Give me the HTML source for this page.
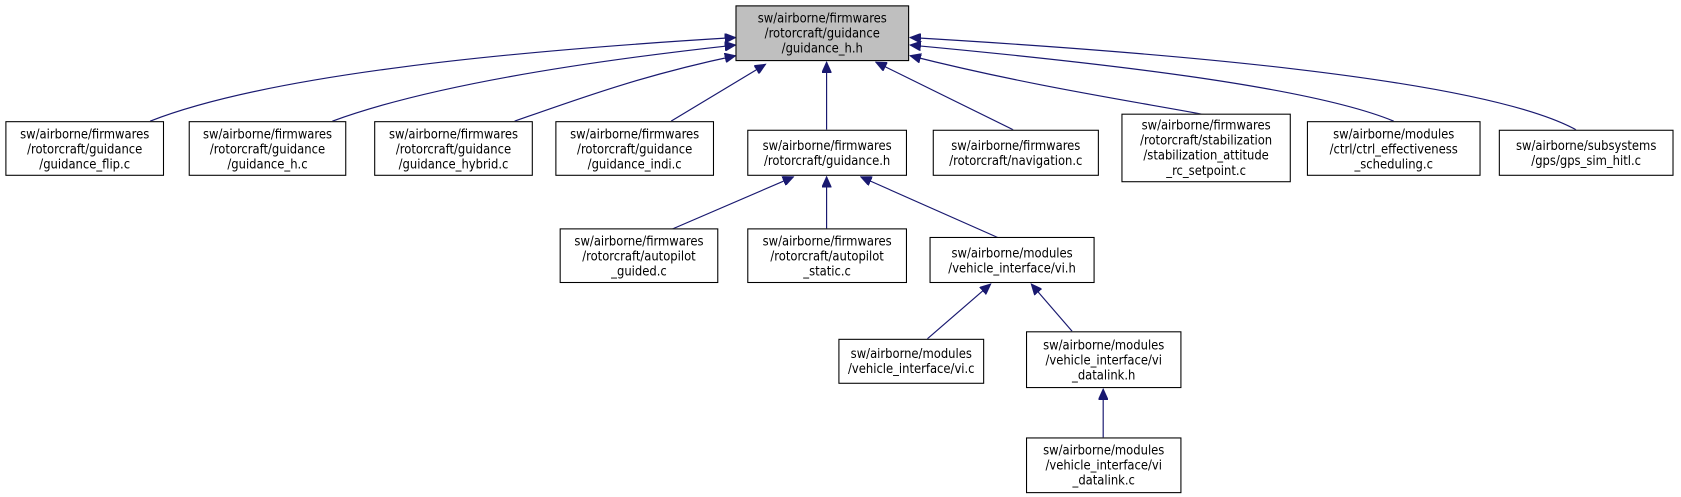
<!DOCTYPE html>
<html><head><meta charset="utf-8"><style>
body{margin:0;background:#fff;width:1681px;height:497px;overflow:hidden;position:relative;font-family:"DejaVu Sans Condensed","Liberation Sans Narrow","Liberation Sans",sans-serif;font-size:12px}
#w{position:absolute;left:0;top:0;width:1568px;height:464px;transform:scale(1.0721);transform-origin:0 0}
.n{position:absolute;border:1px solid #000;background:#fff;box-sizing:border-box;display:flex;align-items:center;justify-content:center;text-align:center;line-height:14px;white-space:nowrap;color:#000}
svg{position:absolute;left:0;top:0}
</style></head><body><div id="w">
<svg width="1568" height="464">
<defs><marker id="a" markerWidth="11" markerHeight="9" refX="10" refY="4.5" orient="auto-start-reverse" markerUnits="userSpaceOnUse"><path d="M0,0 L10,4.5 L0,9 z" fill="#191970" stroke="#191970"/></marker></defs>
<g stroke="#191970" stroke-width="1.1" fill="none">
<path d="M686,35 C470,48 250,70 140,113" marker-start="url(#a)"/>
<path d="M686,42 C540,58 400,80 310,113" marker-start="url(#a)"/>
<path d="M686,52 C600,70 540,92 480,113" marker-start="url(#a)"/>
<path d="M714,60 L626,113" marker-start="url(#a)"/>
<path d="M771,58 L771,121" marker-start="url(#a)"/>
<path d="M817,58 L945,121" marker-start="url(#a)"/>
<path d="M849,52 C960,80 1060,95 1124,107" marker-start="url(#a)"/>
<path d="M849,42 C1020,58 1220,80 1300,113" marker-start="url(#a)"/>
<path d="M849,35 C1070,48 1380,72 1470,121" marker-start="url(#a)"/>
<path d="M740,165 L596,227" marker-start="url(#a)"/>
<path d="M771,165 L771,227" marker-start="url(#a)"/>
<path d="M803,165 L943,227" marker-start="url(#a)"/>
<path d="M924,265 L865,316" marker-start="url(#a)"/>
<path d="M962,265 L1000,309" marker-start="url(#a)"/>
<path d="M1029,363 L1029,408" marker-start="url(#a)"/>
</g></svg>
<div class="n" style="left:686px;top:5px;width:162px;height:52px;background:#bfbfbf">sw/airborne/firmwares<br>/rotorcraft/guidance<br>/guidance_h.h</div>
<div class="n" style="left:5px;top:113px;width:148px;height:51px">sw/airborne/firmwares<br>/rotorcraft/guidance<br>/guidance_flip.c</div>
<div class="n" style="left:176px;top:113px;width:147px;height:51px">sw/airborne/firmwares<br>/rotorcraft/guidance<br>/guidance_h.c</div>
<div class="n" style="left:349px;top:113px;width:148px;height:51px">sw/airborne/firmwares<br>/rotorcraft/guidance<br>/guidance_hybrid.c</div>
<div class="n" style="left:518px;top:113px;width:148px;height:51px">sw/airborne/firmwares<br>/rotorcraft/guidance<br>/guidance_indi.c</div>
<div class="n" style="left:697px;top:121px;width:149px;height:43px">sw/airborne/firmwares<br>/rotorcraft/guidance.h</div>
<div class="n" style="left:870px;top:121px;width:155px;height:43px">sw/airborne/firmwares<br>/rotorcraft/navigation.c</div>
<div class="n" style="left:1046px;top:106px;width:158px;height:64px">sw/airborne/firmwares<br>/rotorcraft/stabilization<br>/stabilization_attitude<br>_rc_setpoint.c</div>
<div class="n" style="left:1219px;top:113px;width:162px;height:51px">sw/airborne/modules<br>/ctrl/ctrl_effectiveness<br>_scheduling.c</div>
<div class="n" style="left:1398px;top:121px;width:163px;height:43px">sw/airborne/subsystems<br>/gps/gps_sim_hitl.c</div>
<div class="n" style="left:522px;top:213px;width:148px;height:51px">sw/airborne/firmwares<br>/rotorcraft/autopilot<br>_guided.c</div>
<div class="n" style="left:697px;top:213px;width:149px;height:51px">sw/airborne/firmwares<br>/rotorcraft/autopilot<br>_static.c</div>
<div class="n" style="left:867px;top:221px;width:154px;height:43px">sw/airborne/modules<br>/vehicle_interface/vi.h</div>
<div class="n" style="left:782px;top:316px;width:136px;height:42px">sw/airborne/modules<br>/vehicle_interface/vi.c</div>
<div class="n" style="left:957px;top:309px;width:145px;height:53px">sw/airborne/modules<br>/vehicle_interface/vi<br>_datalink.h</div>
<div class="n" style="left:957px;top:408px;width:145px;height:52px">sw/airborne/modules<br>/vehicle_interface/vi<br>_datalink.c</div>
</div></body></html>
